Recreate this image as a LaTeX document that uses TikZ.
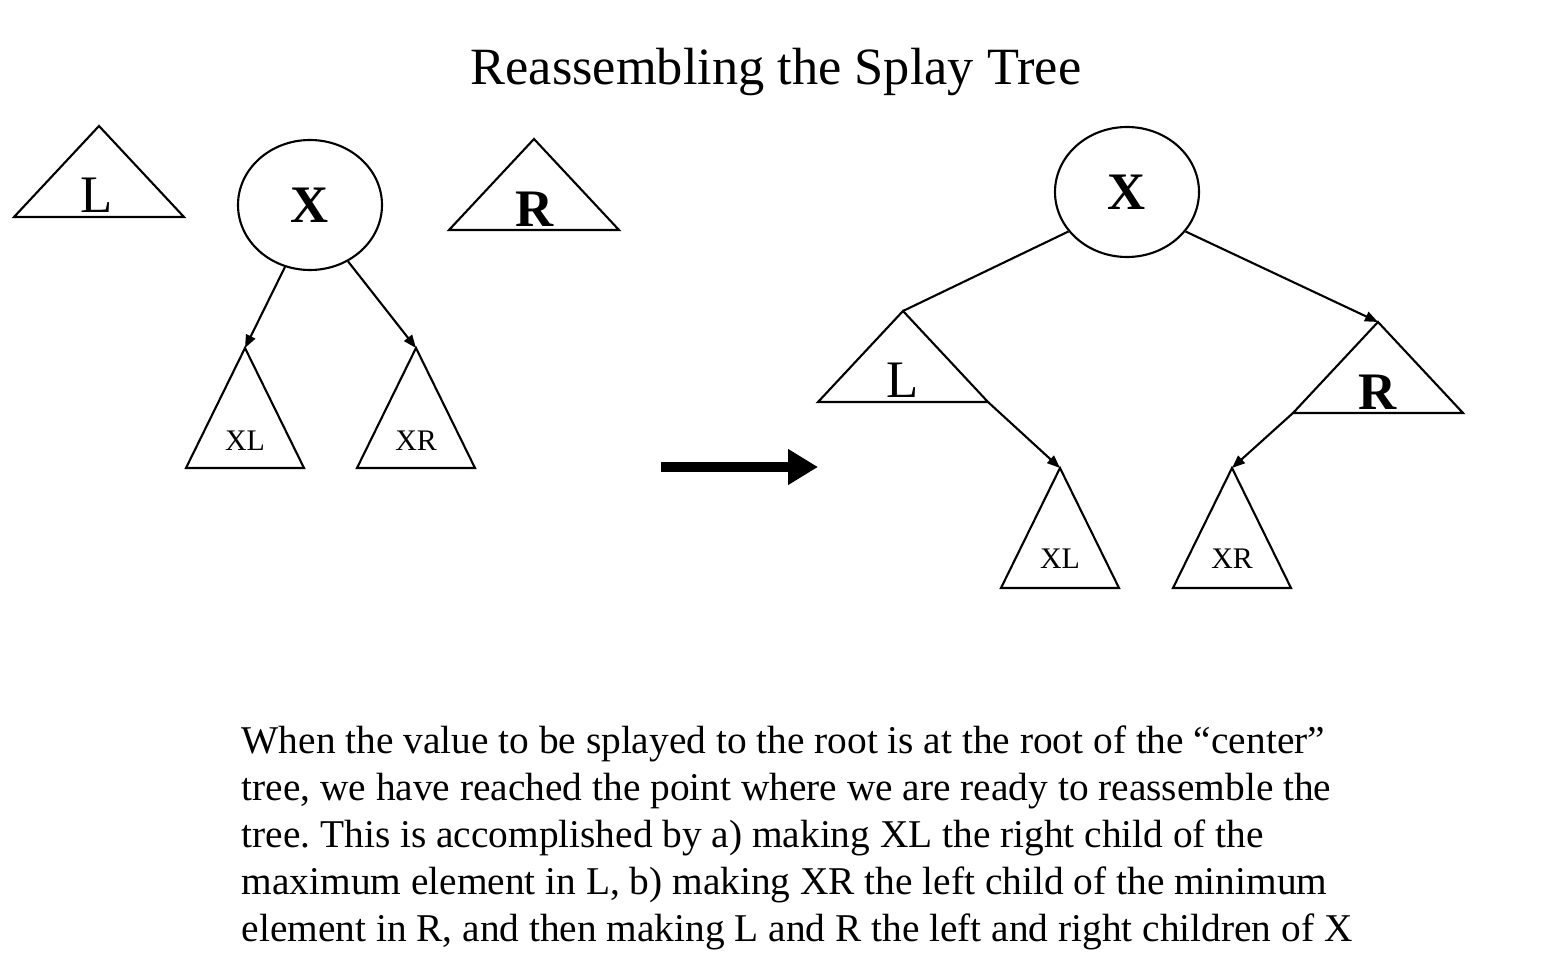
\documentclass[tikz,border=0pt]{standalone}
\usepackage{fontspec}
\setmainfont{Liberation Serif}
\frenchspacing
\usetikzlibrary{shapes.geometric}
\usetikzlibrary{positioning}
\usetikzlibrary{arrows.meta}
\tikzset{
    tree/.style = {isosceles triangle, shape border rotate=90, isosceles triangle stretches, draw=black, line width=0.6pt, inner sep=0pt, outer sep=0pt, anchor=apex},
    bigtree/.style = {tree, minimum width=1.7cm, minimum height=0.91cm},
    smalltree/.style = {tree, minimum width=1.18cm, minimum height=1.2cm},
    rootnode/.style = {ellipse, draw=black, line width=0.6pt, minimum width=1.44cm, minimum height=1.3cm, inner sep=0pt, font=\fontsize{15}{18}\selectfont\bfseries},
    bigtext/.style = {anchor=base, inner sep=0pt, font=\fontsize{15}{18}\selectfont},
    smalltext/.style = {anchor=base, inner sep=0pt, font=\fontsize{8.5}{10}\selectfont},
    edgen/.style = {-{Triangle[length=1.3mm,width=1mm]}, line width=0.6pt},
    edgel/.style = {line width=0.6pt},
    bigarrow/.style = {-{Triangle[length=3mm,width=3.4mm]}, line width=2.6pt},
}

\begin{document}
\begin{tikzpicture}
\useasboundingbox (0,0) rectangle (15.58,-9.76);
\node[font=\fontsize{14.9}{18}\selectfont] at (7.76,-0.72) (title) {Reassembling the Splay Tree};
% before
\node[bigtree] at (0.99,-1.26) (L1) {};
\node[bigtext] at (0.97,-2.13) (L1t) {L};
\node[rootnode] at (3.10,-2.05) (X1) {X};
\node[bigtree] at (5.34,-1.39) (R1) {};
\node[bigtext, font=\fontsize{15}{18}\selectfont\bfseries] at (5.35,-2.27) (R1t) {R};
\node[smalltree] at (2.45,-3.48) (XL1) {};
\node[smalltext] at (2.45,-4.50) (XL1t) {XL};
\node[smalltree] at (4.16,-3.48) (XR1) {};
\node[smalltext] at (4.16,-4.50) (XR1t) {XR};
%
\draw[edgen] (X1.-112) -- (XL1.apex);
\draw[edgen] (X1.-56) -- (XR1.apex);
% arrow
\coordinate (a1) at (6.61,-4.67);
\coordinate (a2) at (8.18,-4.67);
\draw[bigarrow] (a1) -- (a2);
% after
\node[rootnode] at (11.27,-1.92) (X2) {X};
\node[bigtree] at (9.03,-3.11) (L2) {};
\node[bigtext] at (9.03,-3.98) (L2t) {L};
\node[bigtree] at (13.78,-3.22) (R2) {};
\node[bigtext, font=\fontsize{15}{18}\selectfont\bfseries] at (13.78,-4.10) (R2t) {R};
\node[smalltree] at (10.60,-4.68) (XL2) {};
\node[smalltext] at (10.60,-5.68) (XL2t) {XL};
\node[smalltree] at (12.32,-4.68) (XR2) {};
\node[smalltext] at (12.32,-5.68) (XR2t) {XR};
%
\draw[edgel] (X2.-146) -- (L2.apex);
\draw[edgen] (X2.-34) -- (R2.apex);
\draw[edgen] (L2.right corner) -- (XL2.apex);
\draw[edgen] (R2.left corner) -- (XR2.apex);
%
\node[anchor=north west, inner sep=0pt, align=left, font=\fontsize{11.2}{13.4}\selectfont] at (2.41,-7.25) (note) {When the value to be splayed to the root is at the root of the “center”\\tree, we have reached the point where we are ready to reassemble the\\tree. This is accomplished by a) making XL the right child of the\\maximum element in L, b) making XR the left child of the minimum\\element in R, and then making L and R the left and right children of X};
\end{tikzpicture}
\end{document}
